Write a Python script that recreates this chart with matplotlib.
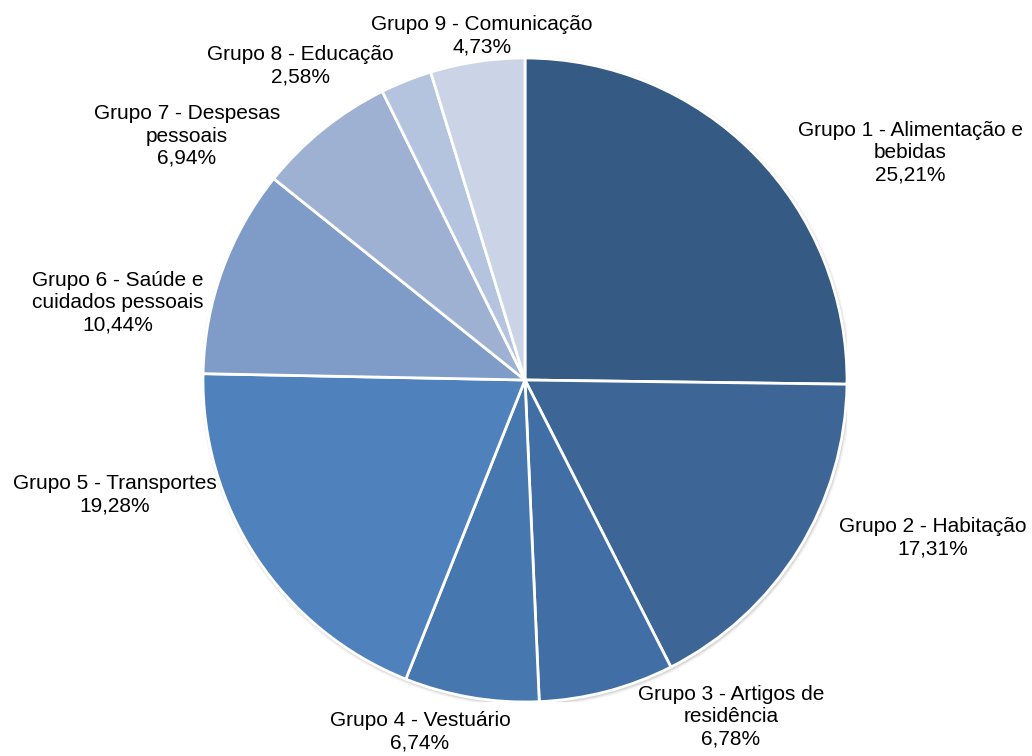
import matplotlib
matplotlib.use("Agg")
import matplotlib.pyplot as plt
from matplotlib.patches import Circle

plt.rcParams['font.family'] = ['Liberation Sans', 'DejaVu Sans']

# Pesos dos grupos (%)
groups = [
    "Grupo 1 - Alimentação e\nbebidas",
    "Grupo 2 - Habitação",
    "Grupo 3 - Artigos de\nresidência",
    "Grupo 4 - Vestuário",
    "Grupo 5 - Transportes",
    "Grupo 6 - Saúde e\ncuidados pessoais",
    "Grupo 7 - Despesas\npessoais",
    "Grupo 8 - Educação",
    "Grupo 9 - Comunicação",
]
weights = [25.21, 17.31, 6.78, 6.74, 19.28, 10.44, 6.94, 2.58, 4.73]
colors = ["#355A83", "#3D6596", "#416EA4", "#4777AF", "#4F81BD",
          "#7F9CC8", "#9FB1D3", "#B5C4DE", "#CBD4E6"]

# label centres in pixels (x, y from top)
label_pos = [(910, 153), (933, 538), (731, 717), (420, 732), (115, 495),
             (118, 303), (187, 136), (300, 66), (482, 36)]

W, H = 1032, 756
fig = plt.figure(figsize=(W / 100, H / 100), dpi=100)

cx, cy, r = 525, 380, 322
ax = fig.add_axes([(cx - r) / W, (H - cy - r) / H, 2 * r / W, 2 * r / H])
ax.set_xlim(-1, 1)
ax.set_ylim(-1, 1)
ax.set_aspect("equal")
ax.axis("off")

# soft shadow behind the pie
for i, a in enumerate([0.03, 0.05, 0.08]):
    ax.add_patch(Circle((0.003, -0.005), 1.0 + 0.01 - i * 0.0035,
                        color="black", alpha=a, lw=0, zorder=0))

ax.pie(weights, colors=colors, startangle=90, counterclock=False,
       radius=1.0, wedgeprops=dict(edgecolor="white", linewidth=2))
ax.set_xlim(-1, 1)
ax.set_ylim(-1, 1)

for name, w, (px, py) in zip(groups, weights, label_pos):
    txt = f"{name}\n{w:.2f}%".replace(".", ",")
    fig.text(px / W, 1 - py / H, txt, ha="center", va="center",
             fontsize=15, linespacing=1.22, color="black")

fig.savefig("out.png", dpi=100, facecolor="white")
